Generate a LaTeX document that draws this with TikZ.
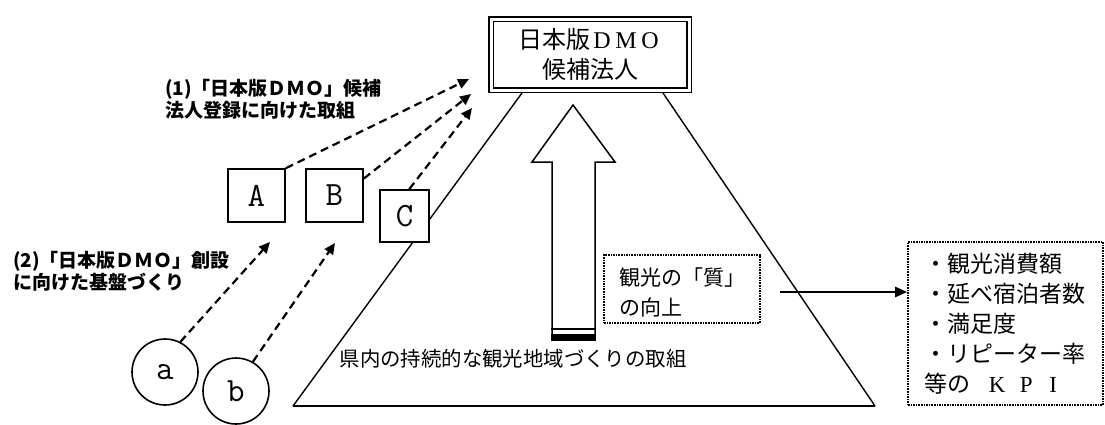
\documentclass[tikz,border=0pt]{standalone}
\usepackage{fontspec}
\setmainfont{Noto Sans CJK JP}
\newfontfamily\serf{Liberation Serif}
\usetikzlibrary{arrows.meta}
\newcommand\fwl[2][1em]{\makebox[#1]{\serf #2}}
\tikzset{
  lbl/.style={font=\fontsize{19}{22}\selectfont\bfseries, align=left, inner sep=0pt},
  dasharrow/.style={line width=2.2pt, dash pattern=on 8pt off 5pt, -{Triangle[length=11pt,width=10pt]}},
  letterbox/.style={draw, fill=white, line width=1.6pt, inner sep=0pt, font=\ttfamily\fontsize{34}{34}\selectfont},
  circ/.style={draw, fill=white, circle, line width=1.6pt, minimum size=66pt, inner sep=0pt, font=\ttfamily\fontsize{34}{34}\selectfont},
  dotbox/.style={draw, densely dotted, line width=1.6pt, inner sep=0pt},
  plaintext/.style={inner sep=0pt, align=left},
  solidarrow/.style={line width=2.4pt, -{Triangle[length=12pt,width=10pt]}},
}
\begin{document}
\begin{tikzpicture}[x=1pt,y=-1pt]
\useasboundingbox (0,0) rectangle (1105,424);

% trapezoid
\draw[line width=1.4pt] (522,93) -- (293,406);
\draw[line width=1.4pt] (663,93) -- (875,406);
\draw[line width=2.2pt] (293,406) -- (875,406);

% top box
\node (dmo) [draw, fill=white, double, double distance=3pt, line width=1.4pt,
  minimum width=198pt, minimum height=71pt, inner sep=0pt, align=center,
  font=\fontsize{24}{30}\selectfont] at (590,54.5)
  {日本版\fwl{D}\fwl{M}\fwl{O}\\候補法人};

% big up arrow
\draw[line width=1.5pt] (552,340) -- (552,162) -- (532,162) -- (573,105) -- (615,162) -- (595,162) -- (595,340);
\draw[line width=2pt] (551,329) -- (596,329);
\fill (551,334) rectangle (596,340.5);

% bottom text
\node (base) [inner sep=0pt, font=\fontsize{20.4}{24}\selectfont] at (513,359) {県内の持続的な観光地域づくりの取組};

% labels
\node (l1) [lbl, anchor=north west] at (165,79) {(1)「日本版ＤＭＯ」候補\\法人登録に向けた取組};
\node (l2) [lbl, anchor=north west] at (13,251) {(2)「日本版ＤＭＯ」創設\\に向けた基盤づくり};

% letter boxes
\node (A) [letterbox, minimum width=57pt, minimum height=53pt] at (256.5,195.5) {A};
\node (B) [letterbox, minimum width=57pt, minimum height=53pt] at (334.5,195.5) {B};
\node (C) [letterbox, minimum width=49pt, minimum height=52pt] at (404.5,216) {C};

% circles
\node (a) [circ] at (165,372) {a};
\node (b) [circ] at (236,391) {b};

% dashed arrows
\coordinate (t1) at (469,79);
\coordinate (t2) at (471,94);
\coordinate (t3) at (472,108);
\coordinate (t4) at (270,242);
\coordinate (t5) at (335,243);
\draw[dasharrow] (A.north east) -- (t1);
\draw[dasharrow] (B.30) -- (t2);
\draw[dasharrow] (C.80) -- (t3);
\draw[dasharrow] (a.63) -- (t4);
\draw[dasharrow] (b.60) -- (t5);

% quality box
\node (q) [dotbox, minimum width=156pt, minimum height=68pt] at (682,289) {};
\node (qt) [plaintext, anchor=west, font=\fontsize{21}{30}\selectfont] at (619,292)
  {観光の「質」\\の向上};

% KPI box
\node (kpi) [dotbox, minimum width=195pt, minimum height=163pt] at (1005.5,323.5) {};
\node (kt) [plaintext, anchor=west, font=\fontsize{23}{30}\selectfont] at (924,323.5)
  {・観光消費額\\・延べ宿泊者数\\・満足度\\・リピーター率\\等の\hspace{12pt}\fwl[30pt]{K}\fwl[28pt]{P}\fwl[26pt]{I}};

% arrow quality -> KPI
\coordinate (qa) at (780,292);
\draw[solidarrow] (qa) -- (qa -| kpi.west);
\end{tikzpicture}
\end{document}
